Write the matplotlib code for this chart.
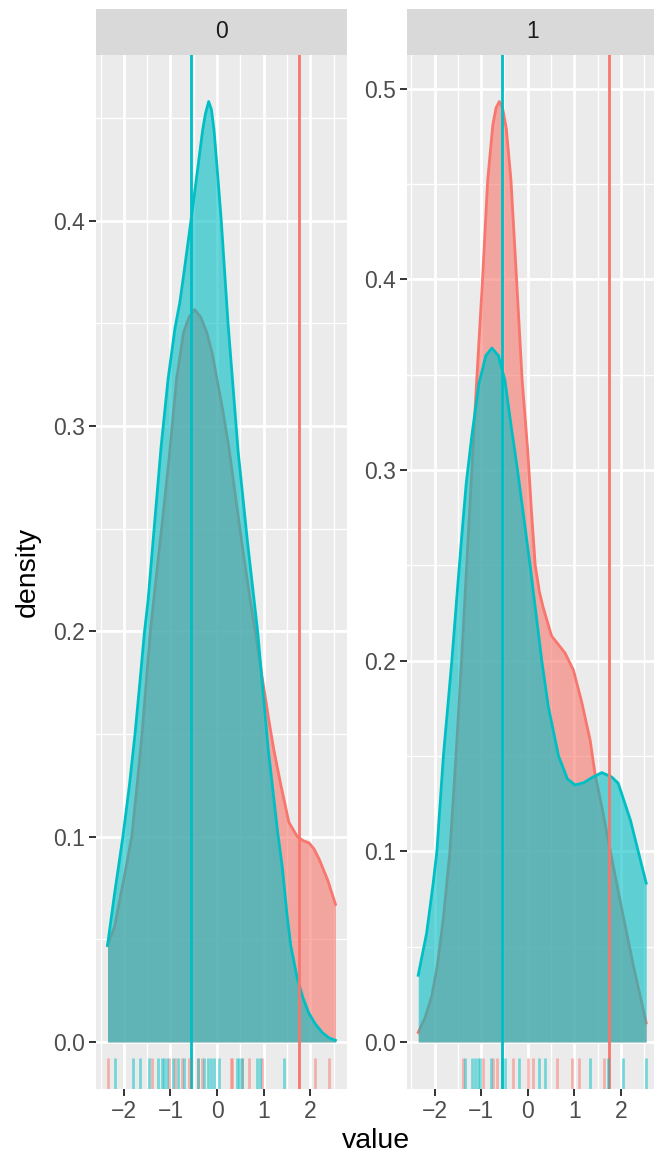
import matplotlib
matplotlib.use('Agg')
import matplotlib.pyplot as plt
import matplotlib.transforms as mtransforms
from matplotlib.ticker import MultipleLocator

plt.rcParams['font.family'] = ['Liberation Sans', 'DejaVu Sans']

# facet labels
facetas = ['0', '1']

# density curves: (x, density)
# facet 0, red group
x_rojo0 = [-2.35, -2.2, -2.09, -1.96, -1.83, -1.72, -1.61, -1.52, -1.43, -1.36, -1.2, -1.03,
           -0.87, -0.72, -0.6, -0.48, -0.35, -0.22, -0.1, 0.0, 0.12, 0.25, 0.4, 0.55, 0.7,
           0.82, 0.95, 1.04, 1.13, 1.22, 1.36, 1.54, 1.72, 1.85, 1.97, 2.08, 2.19, 2.37, 2.54]
d_rojo0 = [0.047, 0.056, 0.069, 0.084, 0.1, 0.124, 0.15, 0.175, 0.2, 0.215, 0.248, 0.284,
           0.3226, 0.3455, 0.353, 0.3567, 0.353, 0.3455, 0.335, 0.3226, 0.308, 0.29, 0.265,
           0.24, 0.217, 0.2, 0.18, 0.167, 0.154, 0.142, 0.126, 0.107, 0.1, 0.098, 0.097,
           0.094, 0.089, 0.079, 0.067]
# facet 0, cyan group
x_cian0 = [-2.35, -2.2, -2.02, -1.88, -1.76, -1.66, -1.56, -1.48, -1.35, -1.2, -1.05, -0.9,
           -0.8, -0.72, -0.56, -0.4, -0.31, -0.25, -0.18, -0.12, -0.065, 0.0, 0.09, 0.235,
           0.45, 0.65, 0.87, 1.0, 1.1, 1.22, 1.3, 1.4, 1.5, 1.58, 1.72, 1.85, 1.97, 2.1,
           2.26, 2.4, 2.54]
d_cian0 = [0.047, 0.072, 0.1, 0.125, 0.15, 0.174, 0.199, 0.215, 0.25, 0.29, 0.323, 0.348,
           0.36, 0.373, 0.4, 0.428, 0.444, 0.452, 0.458, 0.454, 0.444, 0.426, 0.4, 0.35,
           0.288, 0.244, 0.2, 0.167, 0.142, 0.118, 0.102, 0.085, 0.062, 0.047, 0.031,
           0.021, 0.014, 0.009, 0.0045, 0.002, 0.0008]
# facet 1, red group
x_rojo1 = [-2.35, -2.2, -2.06, -1.94, -1.81, -1.67, -1.54, -1.42, -1.35, -1.2, -1.1, -0.97,
           -0.86, -0.75, -0.68, -0.61, -0.54, -0.46, -0.36, -0.24, -0.12, 0.0, 0.08, 0.16,
           0.25, 0.33, 0.51, 0.8, 0.98, 1.16, 1.34, 1.44, 1.6, 1.77, 2.05, 2.27, 2.54]
d_rojo1 = [0.005, 0.013, 0.024, 0.04, 0.065, 0.1, 0.15, 0.2, 0.232, 0.3, 0.345, 0.4,
           0.452, 0.481, 0.49, 0.4933, 0.49, 0.479, 0.452, 0.4, 0.347, 0.31, 0.278, 0.25,
           0.236, 0.228, 0.213, 0.204, 0.195, 0.178, 0.158, 0.141, 0.122, 0.1, 0.0657,
           0.0395, 0.01]
# facet 1, cyan group
x_cian1 = [-2.35, -2.17, -2.03, -1.95, -1.81, -1.63, -1.5, -1.4, -1.32, -1.2, -1.05, -0.9,
           -0.77, -0.63, -0.49, -0.35, -0.22, 0.05, 0.3, 0.44, 0.66, 0.85, 1.015, 1.2, 1.4,
           1.59, 1.8, 1.94, 2.2, 2.54]
d_cian1 = [0.035, 0.057, 0.083, 0.1, 0.15, 0.1995, 0.24, 0.27, 0.293, 0.318, 0.345, 0.36,
           0.364, 0.36, 0.347, 0.322, 0.3, 0.25, 0.2, 0.176, 0.15, 0.138, 0.1348, 0.136,
           0.139, 0.1413, 0.139, 0.1357, 0.1165, 0.0833]

# observations for the rug
rug_rojo0 = [-2.35, -1.4, -1.03, -0.9, -0.41, -0.32, -0.6, -0.75, 0.29, 0.32, 0.54, 0.68,
             0.97, 2.1, 2.4]
rug_cian0 = [-2.19, -1.81, -1.65, -1.46, -1.27, -1.18, -1.13, -1.08, -0.95, -0.84, -0.72,
             -0.4, -0.29, -0.19, -0.14, -0.07, 0.05, 0.43, 0.48, 0.54, 0.86, 0.91, 1.43]
rug_rojo1 = [-1.38, -0.95, -0.74, -0.67, -0.31, 0.01, 0.12, 0.62, 0.94, 1.09, 1.64]
rug_cian1 = [-1.35, -1.2, -1.13, -1.07, -1.02, -0.79, -0.56, -0.49, -0.19, 0.25, 0.36,
             1.34, 1.73, 2.05, 2.53]

# vertical reference lines (same in both facets)
linea_cian = -0.55
linea_roja = 1.75

ROJO = '#F8766D'
CIAN = '#00BFC4'

W, H = 654, 1157
fig = plt.figure(figsize=(W / 100, H / 100), dpi=100)

curvas = [((x_rojo0, d_rojo0), (x_cian0, d_cian0)),
          ((x_rojo1, d_rojo1), (x_cian1, d_cian1))]
rugs = [(rug_rojo0, rug_cian0), (rug_rojo1, rug_cian1)]
lefts = [96.1, 406.8]
ancho = 250.8
p_top, p_bot = 54.5, 1089.0

todos_x = x_rojo0 + x_cian0 + x_rojo1 + x_cian1
xmin, xmax = min(todos_x), max(todos_x)
xexp = 0.05 * (xmax - xmin)

for i in range(2):
    ax = fig.add_axes([lefts[i] / W, 1 - p_bot / H, ancho / W, (p_bot - p_top) / H])
    ax.set_facecolor('#EBEBEB')
    for s in ax.spines.values():
        s.set_visible(False)

    (xr, dr), (xc, dc) = curvas[i]
    ax.fill_between(xr, 0, dr, color=ROJO, alpha=0.6, lw=0, zorder=2)
    ax.plot(xr, dr, color=ROJO, lw=2.0, zorder=2, solid_joinstyle='round')
    ax.fill_between(xc, 0, dc, color=CIAN, alpha=0.6, lw=0, zorder=3)
    ax.plot(xc, dc, color=CIAN, lw=2.0, zorder=3, solid_joinstyle='round')

    ax.axvline(linea_cian, color=CIAN, lw=2.0, zorder=4)
    ax.axvline(linea_roja, color=ROJO, lw=2.0, zorder=4)

    trans = mtransforms.blended_transform_factory(ax.transData, ax.transAxes)
    ax.vlines(rugs[i][0], 0, 0.03, transform=trans, color=ROJO, alpha=0.5, lw=2.0, zorder=4)
    ax.vlines(rugs[i][1], 0, 0.03, transform=trans, color=CIAN, alpha=0.5, lw=2.0, zorder=4)

    ymax = max(max(dr), max(dc))
    ax.set_ylim(-0.05 * ymax, 1.05 * ymax)
    ax.set_xlim(xmin - xexp, xmax + xexp)

    ax.xaxis.set_major_locator(MultipleLocator(1))
    ax.xaxis.set_minor_locator(MultipleLocator(0.5))
    ax.yaxis.set_major_locator(MultipleLocator(0.1))
    ax.yaxis.set_minor_locator(MultipleLocator(0.05))
    ax.yaxis.set_major_formatter(plt.FormatStrFormatter('%.1f'))
    ax.grid(which='major', color='white', lw=2.0, zorder=0)
    ax.grid(which='minor', color='white', lw=1.0, zorder=0)
    ax.set_axisbelow(True)
    ax.tick_params(which='major', length=5, width=1.4, color='#333333',
                   labelsize=16.5, labelcolor='#4D4D4D', pad=3)
    ax.tick_params(which='minor', length=0)

    # strip
    st = fig.add_axes([lefts[i] / W, 1 - p_top / H, ancho / W, (p_top - 9) / H])
    st.set_facecolor('#D9D9D9')
    st.set_xticks([])
    st.set_yticks([])
    for s in st.spines.values():
        s.set_visible(False)
    st.text(0.5, 0.5, facetas[i], ha='center', va='center', fontsize=16.5, color='#1A1A1A')

fig.text(28 / W, 1 - 572 / H, 'density', rotation=90, ha='center', va='center', fontsize=20.5)
fig.text(376 / W, 1 - 1141 / H, 'value', ha='center', va='center', fontsize=20.5)

fig.savefig('out.png', dpi=100)
